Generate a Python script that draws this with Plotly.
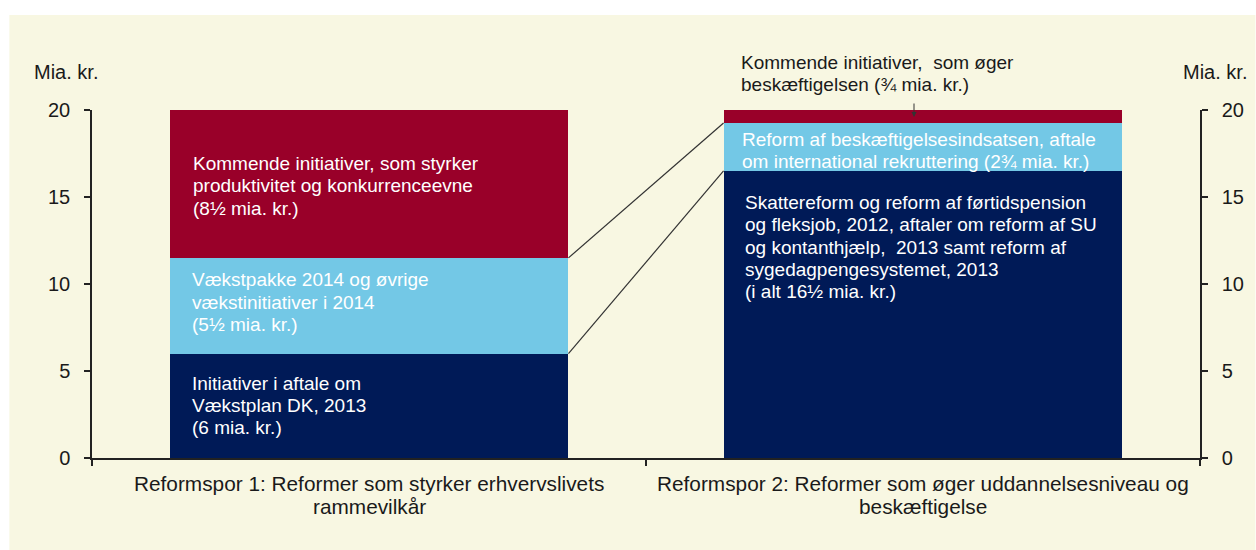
import plotly.graph_objects as go

# ---------------- data ----------------
categories = ["Reformspor 1", "Reformspor 2"]
category_label_lines = [
    ["Reformspor 1: Reformer som styrker erhvervslivets", "rammevilkår"],
    ["Reformspor 2: Reformer som øger uddannelsesniveau og", "beskæftigelse"],
]
bottom_values = [6, 16.5]      # navy
middle_values = [5.5, 2.75]    # light blue
top_values = [8.5, 0.75]       # dark red
y_tick_values = [0, 5, 10, 15, 20]
unit_label = "Mia. kr."

text_top_1 = ["Kommende initiativer, som styrker",
              "produktivitet og konkurrenceevne",
              "(8½ mia. kr.)"]
text_middle_1 = ["Vækstpakke 2014 og øvrige",
                 "vækstinitiativer i 2014",
                 "(5½ mia. kr.)"]
text_bottom_1 = ["Initiativer i aftale om",
                 "Vækstplan DK, 2013",
                 "(6 mia. kr.)"]
text_middle_2 = ["Reform af beskæftigelsesindsatsen, aftale",
                 "om international rekruttering (2¾ mia. kr.)"]
text_bottom_2 = ["Skattereform og reform af førtidspension",
                 "og fleksjob, 2012, aftaler om reform af SU",
                 "og kontanthjælp,  2013 samt reform af",
                 "sygedagpengesystemet, 2013",
                 "(i alt 16½ mia. kr.)"]
callout_top_2 = ["Kommende initiativer,  som øger",
                 "beskæftigelsen (¾ mia. kr.)"]

# ---------------- style ----------------
NAVY = "#001A57"
LIGHT = "#73C8E6"
RED = "#990029"
CREAM = "#F8F7E2"
TXT = "#1a1a1a"
FONT = "Liberation Sans, Arial, sans-serif"
BAR_W = 0.72

fig = go.Figure()
for vals, col in [(bottom_values, NAVY), (middle_values, LIGHT), (top_values, RED)]:
    fig.add_trace(go.Bar(x=categories, y=vals, width=BAR_W, marker=dict(color=col, line=dict(width=0)),
                         showlegend=False, hoverinfo="skip"))

totals = [b + m + t for b, m, t in zip(bottom_values, middle_values, top_values)]
fig.add_trace(go.Scatter(x=categories, y=totals, yaxis="y2", mode="markers",
                         marker=dict(opacity=0), showlegend=False, hoverinfo="skip"))

annotations = []


def add_lines(cat_idx, y_top, lines, first_offset, spacing, xshift, color="white", size=19):
    for k, line in enumerate(lines):
        annotations.append(dict(
            x=cat_idx - BAR_W / 2, y=y_top, xref="x", yref="y",
            xanchor="left", yanchor="middle", xshift=xshift,
            yshift=-(first_offset + k * spacing),
            text=line, showarrow=False, font=dict(color=color, size=size, family=FONT)))


mid1_top = bottom_values[0] + middle_values[0]
mid2_top = bottom_values[1] + middle_values[1]
add_lines(0, totals[0], text_top_1, 53, 22.7, 21)
add_lines(0, mid1_top, text_middle_1, 21.5, 22.7, 20)
add_lines(0, bottom_values[0], text_bottom_1, 30, 21.7, 20)
add_lines(1, mid2_top, text_middle_2, 16, 22, 16)
add_lines(1, bottom_values[1], text_bottom_2, 31.5, 22.3, 19)
add_lines(1, totals[1], callout_top_2, -47.5, 22, 15, color=TXT)

# arrow into the small top segment
annotations.append(dict(x=1, y=totals[1], xref="x", yref="y", xshift=-9, yshift=-7,
                        text="", showarrow=True, ax=0, ay=-15, arrowhead=2, arrowsize=1,
                        arrowwidth=1, arrowcolor="#333"))

# category labels
for i, lines in enumerate(category_label_lines):
    for k, line in enumerate(lines):
        annotations.append(dict(x=i, y=0, xref="x", yref="paper", xanchor="center", yanchor="middle",
                                yshift=-(25 + 23 * k), text=line, showarrow=False,
                                font=dict(color=TXT, size=20.8, family=FONT)))

# unit labels
annotations.append(dict(x=0, y=1, xref="paper", yref="paper", xanchor="right", yanchor="middle",
                        xshift=8, yshift=38, text=unit_label, showarrow=False,
                        font=dict(color=TXT, size=20, family=FONT)))
annotations.append(dict(x=1, y=1, xref="paper", yref="paper", xanchor="left", yanchor="middle",
                        xshift=-19, yshift=38, text=unit_label, showarrow=False,
                        font=dict(color=TXT, size=20, family=FONT)))

shapes = [
    dict(type="rect", xref="paper", yref="paper", x0=-0.0746, x1=1.05, y0=-0.27, y1=1.273,
         fillcolor=CREAM, line=dict(width=0), layer="below"),
    dict(type="line", xref="x", yref="y", x0=0 + BAR_W / 2, y0=mid1_top, x1=1 - BAR_W / 2, y1=mid2_top,
         line=dict(color="#333", width=1.2)),
    dict(type="line", xref="x", yref="y", x0=0 + BAR_W / 2, y0=bottom_values[0], x1=1 - BAR_W / 2,
         y1=bottom_values[1], line=dict(color="#333", width=1.2)),
]

axis_common = dict(range=[0, 20], tickvals=y_tick_values, showgrid=False, zeroline=False,
                   showline=True, linecolor="#222", linewidth=1.5, ticks="outside", ticklen=6,
                   tickcolor="#222", tickwidth=1.5, tickfont=dict(size=20, color=TXT, family=FONT),
                   ticklabelstandoff=10)

fig.update_layout(
    width=1256, height=550,
    margin=dict(l=92, r=52, t=110, b=92),
    paper_bgcolor="white", plot_bgcolor="rgba(0,0,0,0)",
    barmode="stack", bargap=0.28,
    xaxis=dict(type="category", showline=True, linecolor="#222", linewidth=1.5,
               ticks="outside", tickson="boundaries", ticklen=6, tickcolor="#222", tickwidth=1.5,
               showticklabels=False, showgrid=False),
    yaxis=axis_common,
    yaxis2=dict(overlaying="y", side="right", **axis_common),
    annotations=annotations, shapes=shapes,
    font=dict(family=FONT, color=TXT),
)

fig.write_html("out.html", config={"displayModeBar": False},
               post_script="document.body.style.margin='0';document.body.style.overflow='hidden';")
